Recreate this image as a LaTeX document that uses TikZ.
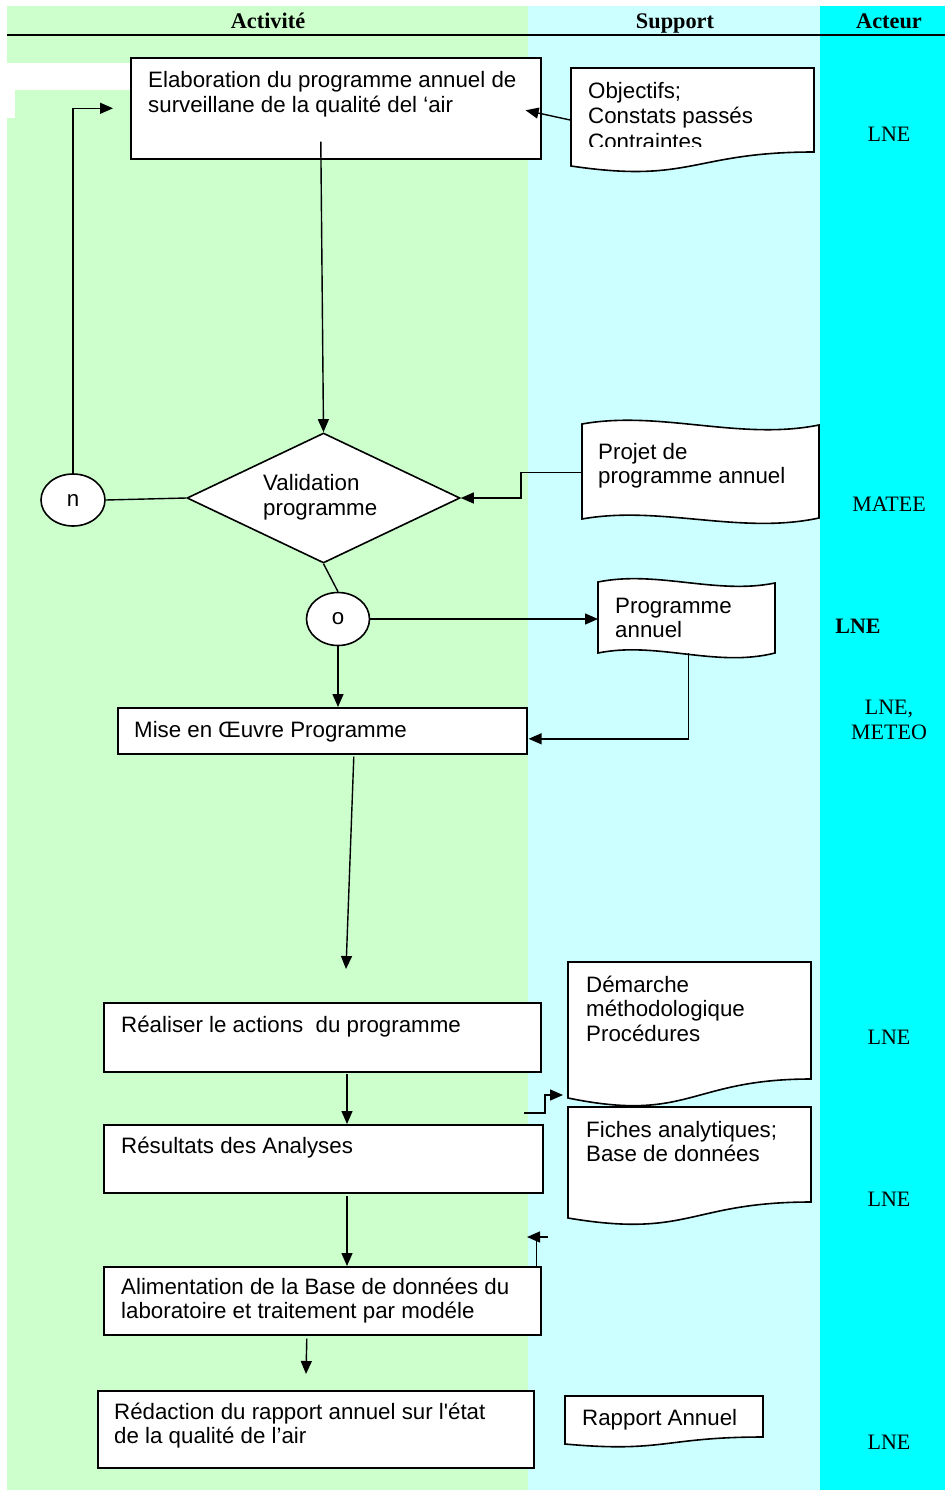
\documentclass[tikz,border=0pt]{standalone}
\usepackage{fontspec}
\setmainfont{Liberation Serif}
\newfontfamily\arial{Liberation Sans}
\usetikzlibrary{arrows.meta,shapes.geometric,calc}
\definecolor{lgreen}{HTML}{CCFFCC}
\definecolor{lcyan}{HTML}{CCFFFF}
\definecolor{acyan}{HTML}{00FFFF}
\begin{document}
\begin{tikzpicture}[x=1pt,y=-1pt,
  box/.style={draw, line width=1.6pt, fill=white, rectangle, inner sep=0, anchor=north west},
  hold/.style={rectangle, inner sep=0, anchor=north west},
  txt/.style={anchor=north west, inner sep=0, align=left, font=\arial\fontsize{22.3}{24.7}\selectfont},
  act/.style={anchor=base, inner sep=0, font=\fontsize{22}{25}\selectfont, align=center},
  hdr/.style={anchor=base, inner sep=0, font=\bfseries\fontsize{22.3}{25}\selectfont},
  conn/.style={line width=1.4pt},
  arr/.style={line width=1.4pt, -{Triangle[length=13pt,width=11pt]}},
  shp/.style={draw, line width=1.6pt, fill=white, line join=miter},
  circ/.style={ellipse, draw, line width=1.6pt, fill=white, inner sep=0, font=\arial\fontsize{22.3}{24.7}\selectfont},
]
\useasboundingbox (0,0) rectangle (945,1490);
% background columns
\fill[white] (0,0) rectangle (945,1490);
\fill[lgreen] (7,6) rectangle (528,1490);
\fill[lcyan] (528,6) rectangle (820,1490);
\fill[acyan] (820,6) rectangle (945,1490);
\fill[white] (7,63) rectangle (130,90);
\fill[white] (7,90) rectangle (15,118);
\draw[line width=1.2pt] (7,35) -- (945,35);

% headers
\node[hdr] (hAct) at (268,29) {Activité};
\node[hdr] (hSup) at (675,29) {Support};
\node[hdr] (hActeur) at (889,29) {Acteur};

% actors
\node[act] (a1) at (889,142) {LNE};
\node[act] (a2) at (889,511) {MATEE};
\node[act, font=\bfseries\fontsize{22}{25}\selectfont] (a3) at (858,633) {LNE};
\node[act] (a4) at (889,739) {LNE,\\METEO};
\node[act] (a5) at (889,1044) {LNE};
\node[act] (a6) at (889,1206) {LNE};
\node[act] (a7) at (889,1449) {LNE};

% process boxes
\node[box, minimum width=410pt, minimum height=101pt] (elab) at (130,57) {};
\node[box, minimum width=409pt, minimum height=46pt] (mise) at (117,707) {};
\node[box, minimum width=437pt, minimum height=69pt] (real) at (103,1002) {};
\node[box, minimum width=439pt, minimum height=68pt] (resu) at (103,1124) {};
\node[box, minimum width=437pt, minimum height=68pt] (alim) at (103,1266) {};
\node[box, minimum width=436pt, minimum height=77pt] (reda) at (97,1390) {};

% decision and connector circles
\node[diamond, draw, line width=1.6pt, fill=white, minimum width=273pt, minimum height=130pt, inner sep=0] (diam) at (323.5,498) {};
\node[circ, minimum width=64pt, minimum height=52pt] (n) at (73,500) {n};
\node[circ, minimum width=63pt, minimum height=53pt] (o) at (338,619) {o};

% documents
\draw[shp] (571,68) -- (814,68) -- (814,152) .. controls (692,152) and (692,184) .. (571,166) -- cycle;
\node[hold, minimum width=243pt, minimum height=104pt] (obj) at (571,68) {};
\draw[shp] (582,424) .. controls (660,410) and (740,441) .. (819,425) -- (819,518) .. controls (740,535) and (660,505) .. (582,519) -- cycle;
\node[hold, minimum width=237pt, minimum height=100pt] (proj) at (582,422) {};
\draw[shp] (598,582) .. controls (657,570) and (716,595) .. (775,583) -- (775,653) .. controls (716,668) and (657,641) .. (598,653) -- cycle;
\node[hold, minimum width=177pt, minimum height=76pt] (prog) at (598,581) {};
\draw[shp] (568,1107) -- (811,1107) -- (811,1202) .. controls (689.5,1202) and (689.5,1238.5) .. (568,1218) -- cycle;
\node[hold, minimum width=243pt, minimum height=118pt] (fich) at (568,1107) {};
\draw[shp] (568,962) -- (811,962) -- (811,1079) .. controls (689.5,1079) and (689.5,1123) .. (568,1098) -- cycle;
\node[hold, minimum width=243pt, minimum height=143pt] (dem) at (568,962) {};
\draw[shp] (565,1396) -- (763,1396) -- (763,1437) .. controls (664,1437) and (664,1453) .. (565,1444) -- cycle;
\node[hold, minimum width=198pt, minimum height=51pt] (rapp) at (565,1396) {};

% texts
\node[txt] (tElab) at (148,70.2) {\strut Elaboration du programme annuel de\\surveillane de la qualité del ‘air};
\begin{scope}
\clip (571,68) rectangle (814,146.5);
\node[txt, font=\arial\fontsize{22.3}{25.6}\selectfont] (tObj) at (588,80.1) {\strut Objectifs;\\Constats passés\\Contraintes};
\end{scope}
\node[txt] (tVal) at (263,473.2) {\strut Validation\\programme};
\node[txt] (tProj) at (598,441.7) {\strut Projet de\\programme annuel};
\node[txt] (tProg) at (615,595.7) {\strut Programme\\annuel};
\node[txt] (tMise) at (134,719.7) {\strut Mise en Œuvre Programme};
\node[txt] (tReal) at (121,1014.7) {\strut Réaliser le actions\ \ du programme};
\node[txt] (tDem) at (586,974.7) {\strut Démarche\\méthodologique\\Procédures};
\node[txt] (tResu) at (121,1135.7) {\strut Résultats des Analyses};
\node[txt] (tFich) at (586,1119.7) {\strut Fiches analytiques;\\Base de données};
\node[txt] (tAlim) at (121,1276.7) {\strut Alimentation de la Base de données du\\laboratoire et traitement par modéle};
\node[txt] (tReda) at (114,1401.7) {\strut Rédaction du rapport annuel sur l'état\\de la qualité de l’air};
\node[txt] (tRapp) at (582,1407.7) {\strut Rapport Annuel};

% free ends
\coordinate (c1) at (346,969);
\coordinate (c2s) at (524,1113);
\coordinate (c2e) at (563,1095);
\coordinate (c3s) at (548,1237);
\coordinate (c3e) at (527,1237);
\coordinate (c4) at (306,1374);
\coordinate (r1) at (347,1074);
\coordinate (r2) at (347,1196);

% connectors
\draw[arr] (obj.west) -- ([xshift=-16pt,yshift=-2pt]elab.east);
\draw[arr] ([xshift=-15pt,yshift=18pt]elab.south) -- (diam.north);
\draw[arr] (n.north) |- ([xshift=-17pt]elab.west);
\draw[conn] (n.east) -- (diam.west);
\draw[arr] (proj.west) -- ([xshift=-61pt]proj.west) |- (diam.east);
\draw[conn] (diam.south) -- (o.north);
\draw[arr] (o.east) -- (o.east -| prog.west);
\draw[arr] (o.south) -- (o.south |- mise.north);
\draw[arr] ([xshift=1.5pt,yshift=4pt]prog.south) |- ([xshift=1pt,yshift=-8pt]mise.east);
\draw[arr] ([xshift=31.5pt,yshift=-2pt]mise.south) -- (c1);
\draw[arr] (r1) -- (r1 |- resu.north);
\draw[arr] (c2s) -- ++(21,0) |- (c2e);
\draw[arr] (r2) -- (r2 |- alim.north);
\draw[arr] (c3s) -- (c3e);
\draw[conn] ([xshift=214pt]alim.north) -- ([xshift=214pt]alim.north |- c3s);
\draw[arr] ([xshift=-15.5pt,yshift=-3pt]alim.south) -- (c4);
\end{tikzpicture}
\end{document}
